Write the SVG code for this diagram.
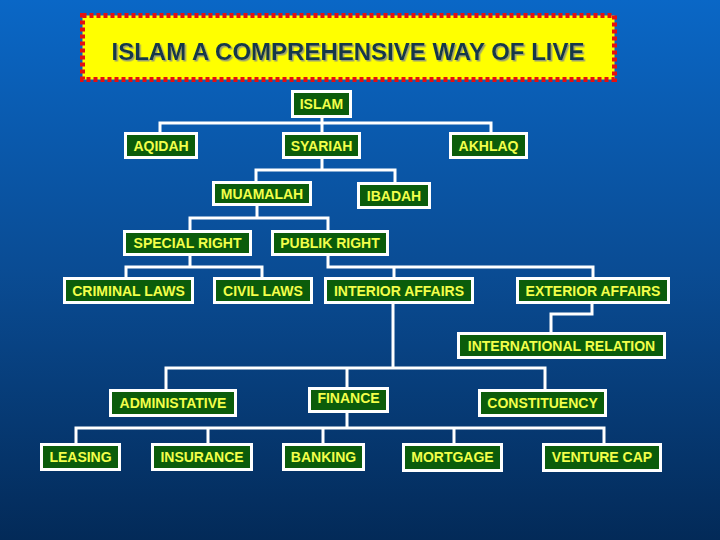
<svg xmlns="http://www.w3.org/2000/svg" width="720" height="540" viewBox="0 0 720 540">
<defs>
<linearGradient id="bg" x1="0" y1="0" x2="0" y2="1">
<stop offset="0" stop-color="#0a67c6"/>
<stop offset="0.5" stop-color="#0a4c94"/>
<stop offset="1" stop-color="#032a58"/>
</linearGradient>
<filter id="sh" x="-5%" y="-20%" width="110%" height="140%">
<feDropShadow dx="1.5" dy="1.5" stdDeviation="0" flood-color="#9aa070"/>
</filter>
<style>
.n rect{fill:#0b5c0b;stroke:#ffffff;stroke-width:3}
.n text{fill:#f2ff4a;font-family:"Liberation Sans",Arial,sans-serif;font-weight:bold;font-size:14px;text-anchor:middle}
#connectors path{fill:none;stroke:#ffffff;stroke-width:3}
.title{fill:#12384a;font-family:"Liberation Sans",Arial,sans-serif;font-weight:bold;font-size:24px;text-anchor:middle}
</style>
</defs>
<rect width="720" height="540" fill="url(#bg)"/>
<g id="title">
<rect x="82.5" y="15.5" width="532" height="64" fill="#ffff00" stroke="#e41010" stroke-width="5" stroke-dasharray="4 3"/>
<text class="title" x="348" y="60" filter="url(#sh)">ISLAM A COMPREHENSIVE WAY OF LIVE</text>
</g>
<g id="connectors">
<path d="M322 118V132M160 132V123H491V132"/>
<path d="M322 159V170M256 181V170H395V182"/>
<path d="M257 206V218M190 230V218H328V230"/>
<path d="M190 256V267M126 277V267H262V277"/>
<path d="M328 256V267H593V277M394 267V277"/>
<path d="M393 304V368M166 389V368H545V389M347 368V387"/>
<path d="M592 304V314H551V332"/>
<path d="M347 413V428M76 443V428H604V443M208 428V443M323 428V443M454 428V443"/>
</g>
<g id="islam" class="n"><rect x="292.5" y="91.5" width="58" height="25"/><text x="321.5" y="109">ISLAM</text></g>
<g id="aqidah" class="n"><rect x="125.5" y="133.5" width="71" height="24"/><text x="161" y="150.5">AQIDAH</text></g>
<g id="syariah" class="n"><rect x="283.5" y="133.5" width="76" height="24"/><text x="321.5" y="150.5">SYARIAH</text></g>
<g id="akhlaq" class="n"><rect x="450.5" y="133.5" width="76" height="24"/><text x="488.5" y="150.5">AKHLAQ</text></g>
<g id="muamalah" class="n"><rect x="213.5" y="182.5" width="97" height="22"/><text x="262" y="198.5">MUAMALAH</text></g>
<g id="ibadah" class="n"><rect x="358.5" y="183.5" width="71" height="24"/><text x="394" y="200.5">IBADAH</text></g>
<g id="special-right" class="n"><rect x="124.5" y="231.5" width="126" height="23"/><text x="187.5" y="248">SPECIAL RIGHT</text></g>
<g id="publik-right" class="n"><rect x="272.5" y="231.5" width="115" height="23"/><text x="330" y="248">PUBLIK RIGHT</text></g>
<g id="criminal-laws" class="n"><rect x="64.5" y="278.5" width="128" height="24"/><text x="128.5" y="295.5">CRIMINAL LAWS</text></g>
<g id="civil-laws" class="n"><rect x="214.5" y="278.5" width="97" height="24"/><text x="263" y="295.5">CIVIL LAWS</text></g>
<g id="interior-affairs" class="n"><rect x="325.5" y="278.5" width="147" height="24"/><text x="399" y="295.5">INTERIOR AFFAIRS</text></g>
<g id="exterior-affairs" class="n"><rect x="517.5" y="278.5" width="151" height="24"/><text x="593" y="295.5">EXTERIOR AFFAIRS</text></g>
<g id="international-relation" class="n"><rect x="458.5" y="333.5" width="206" height="24"/><text x="561.5" y="350.5">INTERNATIONAL RELATION</text></g>
<g id="administative" class="n"><rect x="110.5" y="390.5" width="125" height="25"/><text x="173" y="408">ADMINISTATIVE</text></g>
<g id="finance" class="n"><rect x="309.5" y="388.5" width="78" height="23"/><text x="348.5" y="403">FINANCE</text></g>
<g id="constituency" class="n"><rect x="479.5" y="390.5" width="126" height="25"/><text x="542.5" y="408">CONSTITUENCY</text></g>
<g id="leasing" class="n"><rect x="41.5" y="444.5" width="78" height="25"/><text x="80.5" y="462">LEASING</text></g>
<g id="insurance" class="n"><rect x="152.5" y="444.5" width="99" height="25"/><text x="202" y="462">INSURANCE</text></g>
<g id="banking" class="n"><rect x="283.5" y="444.5" width="80" height="25"/><text x="323.5" y="462">BANKING</text></g>
<g id="mortgage" class="n"><rect x="403.5" y="444.5" width="98" height="26"/><text x="452.5" y="462">MORTGAGE</text></g>
<g id="venture-cap" class="n"><rect x="543.5" y="444.5" width="117" height="26"/><text x="602" y="462">VENTURE CAP</text></g>
</svg>
